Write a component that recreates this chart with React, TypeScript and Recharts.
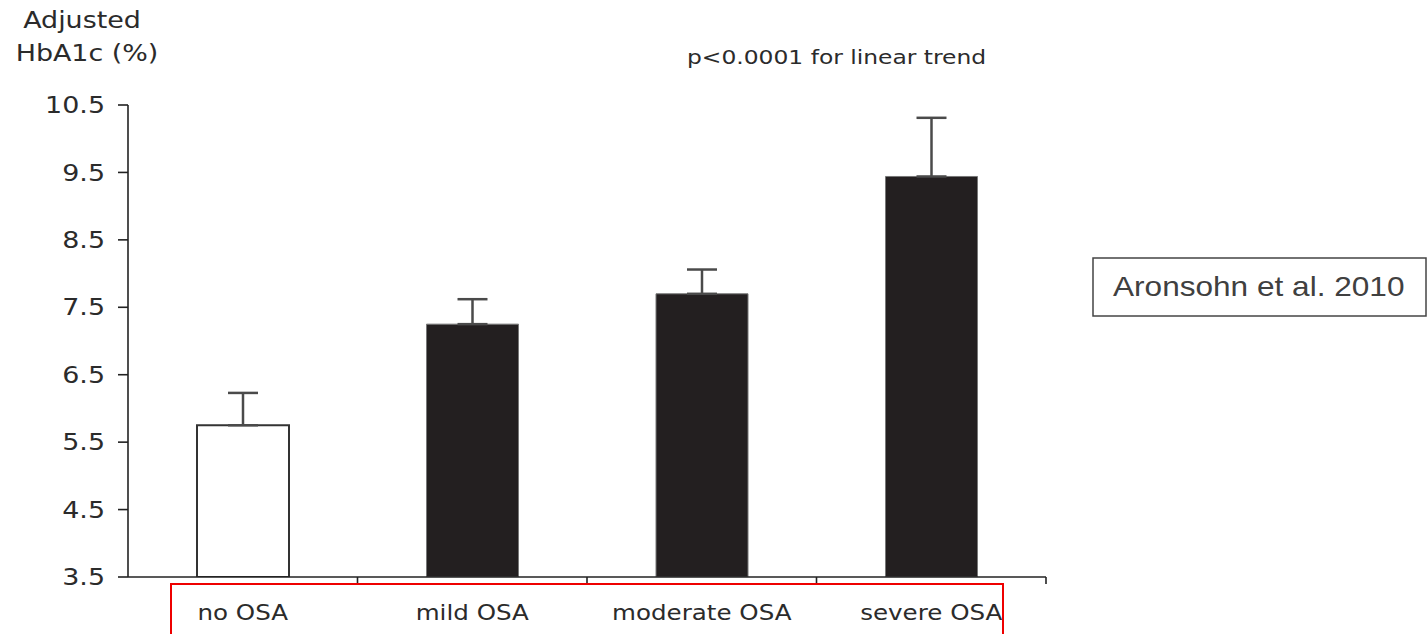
import React from 'react';
import { BarChart, Bar, XAxis, YAxis, ErrorBar, Cell } from 'recharts';

const categories = ['no OSA', 'mild OSA', 'moderate OSA', 'severe OSA'];
const hba1cValues = [5.75, 7.25, 7.7, 9.44];
const errorUpper = [0.48, 0.37, 0.36, 0.87];
const barFills = ['#ffffff', '#231f20', '#231f20', '#231f20'];
const yTicks = [3.5, 4.5, 5.5, 6.5, 7.5, 8.5, 9.5, 10.5];

const data = categories.map((name, i) => ({
  name,
  value: hba1cValues[i],
  err: [0, errorUpper[i]],
}));

const SX = 1.17;
const FONT = '"DejaVu Sans", Verdana, sans-serif';
const TEXT = '#2b2b2b';

const YTick = (props: any) => {
  const { x, y, payload } = props;
  return (
    <g transform={`translate(${x},${y})`}>
      <text
        transform={`scale(${SX},1)`}
        textAnchor="end"
        dy="0.355em"
        fontSize={23}
        fontFamily={FONT}
        fill={TEXT}
      >
        {Number(payload.value).toFixed(1)}
      </text>
    </g>
  );
};

const XTick = (props: any) => {
  const { x, y, payload } = props;
  const off = payload && payload.offset != null ? payload.offset : 0;
  return (
    <g>
      <line x1={x + off} x2={x + off} y1={y} y2={y + 7} stroke="#222" strokeWidth={1.6} />
      <g transform={`translate(${x},${y + 43})`}>
        <text
          transform={`scale(${SX},1)`}
          textAnchor="middle"
          fontSize={21}
          fontFamily={FONT}
          fill={TEXT}
        >
          {payload.value}
        </text>
      </g>
    </g>
  );
};

export default function App() {
  return (
    <div style={{ position: 'absolute', left: 0, top: 0, width: 1428, height: 634, background: '#fff' }}>
      <BarChart
        width={1428}
        height={634}
        data={data}
        margin={{ top: 105, right: 382, bottom: 0, left: 0 }}
      >
        <YAxis
          width={128}
          domain={[3.5, 10.5]}
          ticks={yTicks}
          type="number"
          allowDataOverflow
          tick={<YTick />}
          tickSize={10}
          tickMargin={13}
          tickLine={{ stroke: '#222', strokeWidth: 1.6 }}
          axisLine={{ stroke: '#222', strokeWidth: 1.6 }}
        />
        <XAxis
          dataKey="name"
          height={57}
          interval={0}
          tick={<XTick />}
          tickLine={false}
          tickSize={0}
          tickMargin={0}
          axisLine={{ stroke: '#222', strokeWidth: 1.6 }}
        />
        <Bar dataKey="value" barSize={92} isAnimationActive={false}>
          {data.map((d, i) => (
            <Cell
              key={d.name}
              fill={barFills[i]}
              stroke={i === 0 ? '#333' : '#777'}
              strokeWidth={i === 0 ? 2 : 1}
            />
          ))}
          <ErrorBar dataKey="err" width={15} stroke="#4a4a4a" strokeWidth={2.5} direction="y" />
        </Bar>
      </BarChart>
      <svg
        width={1428}
        height={634}
        style={{ position: 'absolute', left: 0, top: 0, pointerEvents: 'none' }}
      >
        <g transform="translate(82,28)">
          <text transform={`scale(${SX},1)`} textAnchor="middle" fontSize={23} fontFamily={FONT} fill={TEXT}>
            Adjusted
          </text>
        </g>
        <g transform="translate(87,61)">
          <text transform={`scale(${SX},1)`} textAnchor="middle" fontSize={23} fontFamily={FONT} fill={TEXT}>
            HbA1c (%)
          </text>
        </g>
        <g transform="translate(687,64)">
          <text transform={`scale(${SX},1)`} textAnchor="start" fontSize={20} fontFamily={FONT} fill={TEXT}>
            p&lt;0.0001 for linear trend
          </text>
        </g>
        <rect x={171} y={584} width={832} height={80} fill="none" stroke="#ee0000" strokeWidth={2} />
        <rect x={1093} y={258} width={333} height={58} fill="#fff" stroke="#444" strokeWidth={1.5} />
        <g transform="translate(1113,296)">
          <text
            transform={`scale(${SX},1)`}
            textAnchor="start"
            fontSize={27}
            fontFamily='"Liberation Sans", Arial, sans-serif'
            fill="#404040"
          >
            Aronsohn et al. 2010
          </text>
        </g>
      </svg>
    </div>
  );
}
